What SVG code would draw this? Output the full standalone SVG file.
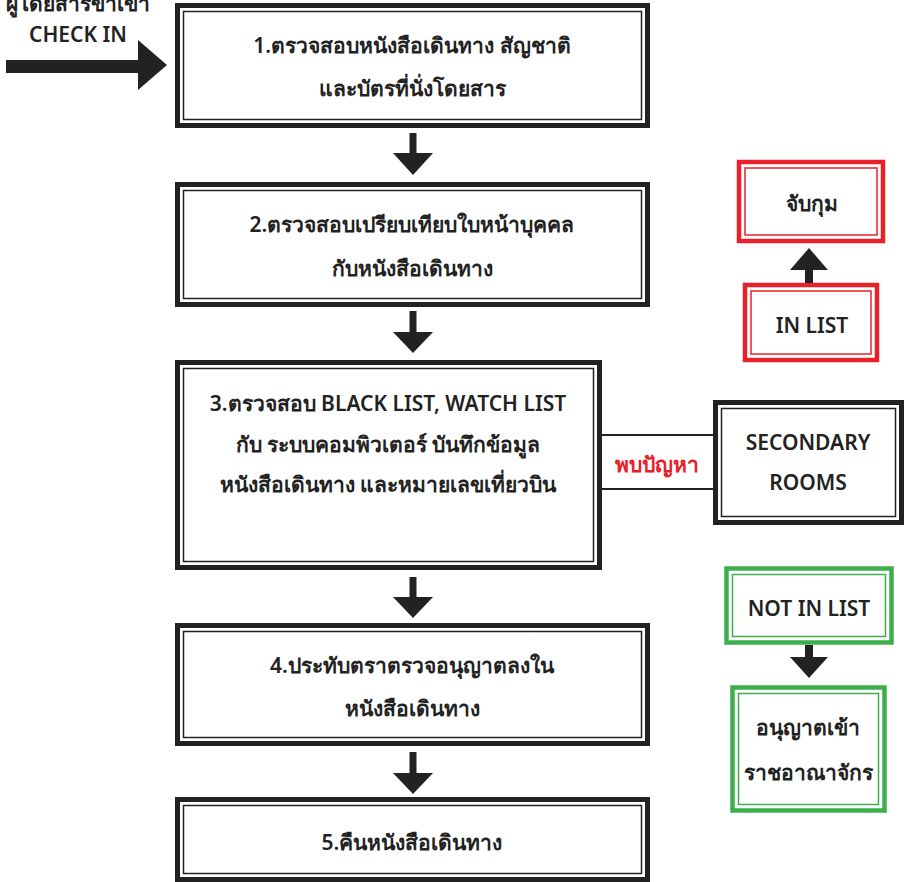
<svg xmlns="http://www.w3.org/2000/svg" width="909" height="882" viewBox="0 0 909 882">
<style>
  .ob{fill:#fff;stroke:#222;stroke-width:5}
  .ib{fill:none;stroke:#222;stroke-width:1.5}
  .or{fill:#fff;stroke:#e8202a;stroke-width:4.5}
  .ir{fill:none;stroke:#e8202a;stroke-width:1.5}
  .og{fill:#fff;stroke:#3cae4a;stroke-width:4.5}
  .ig{fill:none;stroke:#3cae4a;stroke-width:1.5}
  .t{font-family:"Noto Sans","DejaVu Sans",sans-serif;font-size:21px;font-weight:600;fill:#222;text-anchor:middle}
  .red{fill:#e8202a;font-weight:bold}
  .ar{fill:#222}
  .ln{stroke:#222;stroke-width:2;fill:none}
</style>
<rect width="909" height="882" fill="#fff"/>
<g id="start">
  <text class="t" x="78" y="11">ผู้โดยสารขาเข้า</text>
  <text class="t" x="78" y="42">CHECK IN</text>
</g>
<g id="box1">
  <rect class="ob" x="177.5" y="5.5" width="470" height="120"/>
  <rect class="ib" x="183.5" y="11.5" width="458" height="108"/>
  <text class="t" x="412" y="53">1.ตรวจสอบหนังสือเดินทาง สัญชาติ</text>
  <text class="t" x="412" y="96">และบัตรที่นั่งโดยสาร</text>
</g>
<g id="box2">
  <rect class="ob" x="177.5" y="184.5" width="470" height="120"/>
  <rect class="ib" x="183.5" y="190.5" width="458" height="108"/>
  <text class="t" x="412" y="232">2.ตรวจสอบเปรียบเทียบใบหน้าบุคคล</text>
  <text class="t" x="412" y="276">กับหนังสือเดินทาง</text>
</g>
<g id="box3">
  <rect class="ob" x="177.5" y="362.5" width="422" height="205"/>
  <rect class="ib" x="183.5" y="368.5" width="410" height="193"/>
  <text class="t" x="388" y="411">3.ตรวจสอบ BLACK LIST, WATCH LIST</text>
  <text class="t" x="388" y="452">กับ ระบบคอมพิวเตอร์ บันทึกข้อมูล</text>
  <text class="t" x="388" y="492">หนังสือเดินทาง และหมายเลขเที่ยวบิน</text>
</g>
<g id="box4">
  <rect class="ob" x="177.5" y="625.5" width="470" height="118"/>
  <rect class="ib" x="183.5" y="631.5" width="458" height="106"/>
  <text class="t" x="412" y="673">4.ประทับตราตรวจอนุญาตลงใน</text>
  <text class="t" x="412" y="716">หนังสือเดินทาง</text>
</g>
<g id="box5">
  <rect class="ob" x="177.5" y="799.5" width="470" height="80"/>
  <rect class="ib" x="183.5" y="805.5" width="458" height="68"/>
  <text class="t" x="412" y="850">5.คืนหนังสือเดินทาง</text>
</g>
<g id="arrest">
  <rect class="or" x="739" y="162" width="144" height="79"/>
  <rect class="ir" x="745" y="168" width="132" height="67"/>
  <text class="t" x="812" y="211">จับกุม</text>
</g>
<g id="inlist">
  <rect class="or" x="745" y="285" width="132" height="75"/>
  <rect class="ir" x="751" y="291" width="120" height="63"/>
  <text class="t" x="812" y="333">IN LIST</text>
</g>
<g id="secondary">
  <rect class="ob" x="715.5" y="402.5" width="186" height="120"/>
  <rect class="ib" x="721.5" y="408.5" width="174" height="108"/>
  <text class="t" x="808" y="450">SECONDARY</text>
  <text class="t" x="808" y="490">ROOMS</text>
</g>
<g id="notinlist">
  <rect class="og" x="726.5" y="568.5" width="165" height="74"/>
  <rect class="ig" x="732.5" y="574.5" width="153" height="62"/>
  <text class="t" x="809" y="616">NOT IN LIST</text>
</g>
<g id="allow">
  <rect class="og" x="732.5" y="687.5" width="152" height="123"/>
  <rect class="ig" x="738.5" y="693.5" width="140" height="111"/>
  <text class="t" x="808" y="735">อนุญาตเข้า</text>
  <text class="t" x="808" y="780">ราชอาณาจักร</text>
</g>
<g id="connectors">
  <polygon class="ar" points="6,60 138,60 138,40 167,65 138,90 138,73 6,73"/>
  <polygon class="ar" points="409.5,133 416.5,133 416.5,153 433,153 413,175 393,153 409.5,153"/>
  <polygon class="ar" points="409.5,311 416.5,311 416.5,332 433,332 413,353 393,332 409.5,332"/>
  <polygon class="ar" points="409.5,577 416.5,577 416.5,597 433,597 413,618 393,597 409.5,597"/>
  <polygon class="ar" points="409.5,752 416.5,752 416.5,773 433,773 413,794 393,773 409.5,773"/>
  <polygon class="ar" points="805,283 813,283 813,270 828,270 809,248 790,270 805,270"/>
  <polygon class="ar" points="805,645 813,645 813,657 828,657 809,678 790,657 805,657"/>
  <line class="ln" x1="600" y1="435" x2="713" y2="435"/>
  <line class="ln" x1="600" y1="489" x2="713" y2="489"/>
  <text class="t red" x="657" y="472">พบปัญหา</text>
</g>
</svg>
